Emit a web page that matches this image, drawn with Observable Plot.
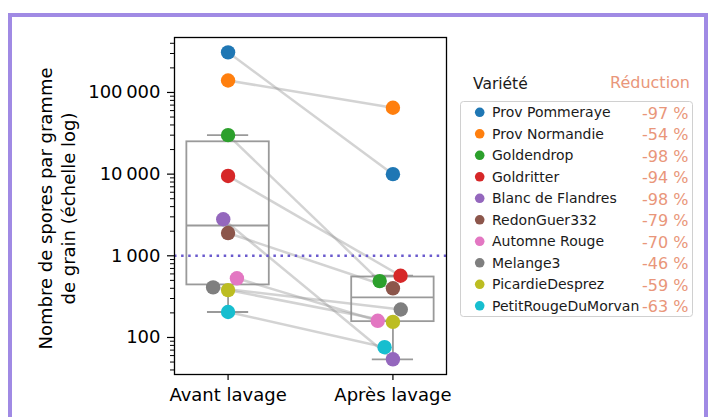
<!DOCTYPE html>
<html><head><meta charset="utf-8">
<script src="https://cdn.jsdelivr.net/npm/d3@7"></script>
<script src="https://cdn.jsdelivr.net/npm/@observablehq/plot@0.6"></script>
<style>
body{margin:0;background:#fff;font-family:"DejaVu Sans",sans-serif;}
#wrap{position:relative;width:708px;height:417px;overflow:hidden;background:#fff;}
#wrap svg{position:absolute;left:0;top:0;}
#border{position:absolute;left:8px;top:13px;width:700px;height:500px;box-sizing:border-box;border:4px solid #a08ae4;z-index:5;}
</style></head><body><div id="wrap"><div id="border"></div></div>
<script>
const stages = ["Avant lavage", "Après lavage"];
const varieties = ["Prov Pommeraye", "Prov Normandie", "Goldendrop", "Goldritter", "Blanc de Flandres", "RedonGuer332", "Automne Rouge", "Melange3", "PicardieDesprez", "PetitRougeDuMorvan"];
const colors = ["#1f77b4", "#ff7f0e", "#2ca02c", "#d62728", "#9467bd", "#8c564b", "#e377c2", "#7f7f7f", "#bcbd22", "#17becf"];
const avant = [310000, 140000, 30000, 9500, 2800, 1900, 530, 410, 380, 205];
const apres = [10000, 65000, 490, 570, 54, 400, 160, 220, 155, 76];
const reductions = ["-97 %", "-54 %", "-98 %", "-94 %", "-98 %", "-79 %", "-70 %", "-46 %", "-59 %", "-63 %"];
const yTicks = [100, 1000, 10000, 100000];
const yTickLabels = ["100", "1\u2009000", "10\u2009000", "100\u2009000"];
const yLabel = "Nombre de spores par gramme\nde grain (échelle log)";
const legendTitle = "Variété";
const reductionTitle = "Réduction";
const threshold = 1000;

const W = 708, H = 417, mL = 174, mR = 262, mT = 37, mB = 43;
const xDomain = [-0.325, 1.325], yDomain = [35.2, 471000];
const yPx = d3.scaleLog(yDomain, [H - mB, mT]);
const pxPerUnit = (W - mL - mR) / (xDomain[1] - xDomain[0]);
const D = 14.5;

function swarm(values) {
  const order = d3.range(values.length).sort((a, b) => values[a] - values[b]);
  const placed = [], off = new Array(values.length);
  for (const i of order) {
    const y = yPx(values[i]);
    const nb = placed.filter(p => Math.abs(p.y - y) < D);
    const L = [], R = [];
    for (const p of nb) {
      const dx = Math.sqrt(Math.max(D * D - (p.y - y) ** 2, 0)) * 1.05;
      L.push(p.x - dx); R.push(p.x + dx);
    }
    const cands = [0, ...L, ...R].map((c, k) => [c, k])
      .sort((a, b) => Math.abs(a[0]) - Math.abs(b[0]) || a[1] - b[1]);
    let x = 0;
    for (const [c] of cands) {
      if (nb.every(p => Math.hypot(p.x - c, p.y - y) >= D - 1e-6)) { x = c; break; }
    }
    placed.push({x, y}); off[i] = x;
  }
  return off;
}

const series = [avant, apres];
const offsets = series.map(swarm);
const points = [];
series.forEach((vals, s) => vals.forEach((v, i) => points.push({s, i, x: s + offsets[s][i] / pxPerUnit, y: v, color: colors[i]})));
const links = varieties.map((name, i) => ({
  x1: 0 + offsets[0][i] / pxPerUnit, y1: avant[i],
  x2: 1 + offsets[1][i] / pxPerUnit, y2: apres[i]
}));
const stats = series.map((vals, s) => {
  const v = vals.slice().sort((a, b) => a - b);
  const q1 = d3.quantile(v, 0.25), med = d3.quantile(v, 0.5), q3 = d3.quantile(v, 0.75);
  const iqr = q3 - q1;
  const lo = d3.min(v.filter(d => d >= q1 - 1.5 * iqr));
  const hi = d3.max(v.filter(d => d <= q3 + 1.5 * iqr));
  return {s, q1, med, q3, lo, hi};
});

const minorTicks = [];
for (let k = 1; k <= 5; k++) for (let m = 2; m <= 9; m++) {
  const t = m * 10 ** k;
  if (t >= yDomain[0] && t <= yDomain[1]) minorTicks.push(t);
}

const boxGray = "#9a9a9a";
const chart = Plot.plot({
  width: W, height: H,
  marginLeft: mL, marginRight: mR, marginTop: mT, marginBottom: mB,
  x: {type: "linear", domain: xDomain},
  y: {type: "log", domain: yDomain},
  color: {type: "identity"},
  style: {fontFamily: "DejaVu Sans", background: "transparent", color: "black"},
  marks: [
    Plot.rect(stats, {x1: d => d.s - 0.25, x2: d => d.s + 0.25, y1: "q1", y2: "q3", fill: "none", stroke: boxGray, strokeWidth: 1.8}),
    Plot.ruleY(stats, {y: "med", x1: d => d.s - 0.25, x2: d => d.s + 0.25, stroke: boxGray, strokeWidth: 1.8}),
    Plot.ruleX(stats, {x: "s", y1: "q3", y2: "hi", stroke: boxGray, strokeWidth: 1.8}),
    Plot.ruleX(stats, {x: "s", y1: "lo", y2: "q1", stroke: boxGray, strokeWidth: 1.8}),
    Plot.ruleY(stats, {y: "hi", x1: d => d.s - 0.125, x2: d => d.s + 0.125, stroke: boxGray, strokeWidth: 1.8}),
    Plot.ruleY(stats, {y: "lo", x1: d => d.s - 0.125, x2: d => d.s + 0.125, stroke: boxGray, strokeWidth: 1.8}),
    Plot.link(links, {x1: "x1", y1: "y1", x2: "x2", y2: "y2", stroke: "#909090", strokeOpacity: 0.4, strokeWidth: 2.5}),
    Plot.ruleY([threshold], {stroke: "#6a5acd", strokeWidth: 2.5, strokeDasharray: "2.5,4.6"}),
    Plot.dot(points, {x: "x", y: "y", fill: "color", r: 7.2, stroke: "none"}),
    Plot.frame({stroke: "black", strokeWidth: 1.3}),
    Plot.axisY(minorTicks, {tickSize: 4, tickFormat: () => "", label: null, strokeWidth: 1}),
    Plot.axisY(yTicks, {tickSize: 7, tickPadding: 7, tickFormat: (d, i) => yTickLabels[yTicks.indexOf(d)], fontSize: 18, label: null, strokeWidth: 1.2}),
    Plot.axisX([0, 1], {tickSize: 6, tickPadding: 8, tickFormat: d => stages[d], fontSize: 18, label: null, strokeWidth: 1.2}),
    Plot.text([yLabel], {frameAnchor: "left", dx: -118.5, dy: 2.5, rotate: -90, fontSize: 18, lineHeight: 23 / 18, textAnchor: "middle"})
  ]
});
const wrap = document.getElementById("wrap");
wrap.appendChild(chart);

// Legend
const lg = d3.select(wrap).append("svg").attr("width", W).attr("height", H)
  .style("font-family", "DejaVu Sans");
lg.append("text").attr("x", 473).attr("y", 89.3).attr("font-size", 15.5).attr("fill", "#1a1a1a").text(legendTitle);
lg.append("text").attr("x", 690).attr("y", 88.3).attr("font-size", 16).attr("text-anchor", "end").attr("fill", "#e9967a").text(reductionTitle);
lg.append("rect").attr("x", 460.5).attr("y", 101.5).attr("width", 232).attr("height", 215).attr("rx", 3)
  .attr("fill", "white").attr("stroke", "#d0d0d0").attr("stroke-width", 1);
varieties.forEach((name, i) => {
  const cy = 112.3 + 21.5 * i;
  lg.append("circle").attr("cx", 479.7).attr("cy", cy).attr("r", 4.8).attr("fill", colors[i]);
  lg.append("text").attr("x", 492).attr("y", cy + 5.1).attr("font-size", 14).attr("fill", "#1a1a1a").text(name);
  lg.append("text").attr("x", 688.5).attr("y", cy + 6.2).attr("font-size", 16).attr("text-anchor", "end").attr("fill", "#e9967a").text(reductions[i]);
});
</script>
</body></html>
